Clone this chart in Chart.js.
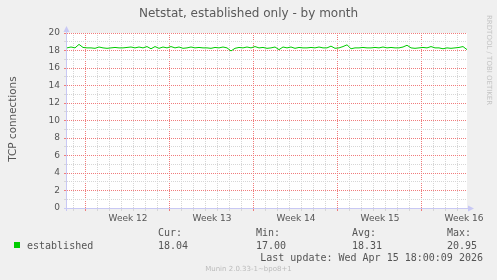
<!DOCTYPE html>
<html>
<head>
<meta charset="utf-8">
<script src="https://cdn.jsdelivr.net/npm/chart.js@4.4.1/dist/chart.umd.min.js"></script>
<style>
  body { margin: 0; background: #f0f0f0; }
  #wrap { position: relative; width: 497px; height: 280px; overflow: hidden; font-family: 'DejaVu Sans', sans-serif; color: #555; }
  #wrap canvas { position: absolute; left: 0; top: 0; }
  .t { position: absolute; white-space: nowrap; }
  .mono { font-family: 'DejaVu Sans Mono', monospace; font-size: 10px; line-height: 12px; color: #555; }
</style>
</head>
<body>
<div id="wrap">
  <canvas id="chart" width="497" height="280"></canvas>
  <div class="t" style="left:0;top:5px;width:497px;text-align:center;font-size:12px;line-height:16px;color:#5a5a5a;">Netstat, established only - by month</div>
  <div class="t" style="left:-88px;top:112px;width:200px;height:14px;text-align:center;font-size:10.4px;line-height:14px;transform:rotate(-90deg);">TCP connections</div>
  <div class="t" style="left:485px;top:15px;writing-mode:vertical-rl;font-size:7px;color:#c4c4c4;">RRDTOOL / TOBI OETIKER</div>

  <div class="t" style="left:14px;top:242px;width:6px;height:6px;background:#00cc00;"></div>
  <div class="t mono" style="left:27px;top:240px;">established</div>
  <div class="t mono" style="left:158px;top:227px;">Cur:</div>
  <div class="t mono" style="left:158px;top:240px;">18.04</div>
  <div class="t mono" style="left:256px;top:227px;">Min:</div>
  <div class="t mono" style="left:256px;top:240px;">17.00</div>
  <div class="t mono" style="left:352px;top:227px;">Avg:</div>
  <div class="t mono" style="left:352px;top:240px;">18.31</div>
  <div class="t mono" style="left:447px;top:227px;">Max:</div>
  <div class="t mono" style="left:447px;top:240px;">20.95</div>
  <div class="t mono" style="right:14px;top:252px;">Last update: Wed Apr 15 18:00:09 2026</div>
  <div class="t" style="left:0;top:264px;width:497px;text-align:center;font-size:7px;line-height:10px;color:#bbb;">Munin 2.0.33-1~bpo8+1</div>
</div>
<script>
// days counted from the Monday that starts week 12
const startDay = -1.583;
const endDay = 31.75;
const stepDays = 1 / 3;   // one sample every 8 hours

const weekLabels = ['Week 12', 'Week 13', 'Week 14', 'Week 15', 'Week 16'];
const weekLabelDays = [3.5, 10.5, 17.5, 24.5, 31.5];
const yTicks = [0, 2, 4, 6, 8, 10, 12, 14, 16, 18, 20];

const established = [
  18.30, 18.40, 18.30, 18.70, 18.35, 18.30, 18.30, 18.25, 18.40, 18.30,
  18.25, 18.30, 18.35, 18.30, 18.30, 18.35, 18.40, 18.30, 18.40, 18.30,
  18.45, 18.20, 18.45, 18.25, 18.40, 18.30, 18.45, 18.30, 18.40, 18.25,
  18.30, 18.40, 18.30, 18.35, 18.30, 18.30, 18.25, 18.35, 18.30, 18.40,
  18.30, 17.95, 18.25, 18.35, 18.30, 18.40, 18.30, 18.45, 18.30, 18.35,
  18.25, 18.30, 18.40, 18.10, 18.40, 18.30, 18.40, 18.25, 18.35, 18.30,
  18.30, 18.35, 18.30, 18.40, 18.30, 18.30, 18.50, 18.25, 18.30, 18.45,
  18.65, 18.20, 18.30, 18.30, 18.35, 18.30, 18.30, 18.35, 18.30, 18.40,
  18.30, 18.35, 18.30, 18.30, 18.40, 18.60, 18.30, 18.25, 18.30, 18.35,
  18.30, 18.45, 18.30, 18.30, 18.20, 18.30, 18.25, 18.30, 18.35, 18.45,
  18.10
];

const points = established.map((v, i) => ({ x: startDay + i * stepDays, y: v }));

const axisColor = '#c8c8f4';
const redGrid = '#f07c7c';
const grayGrid = '#d6d6d6';

// white plot area, and munin-style axis lines with arrows
const munin = {
  id: 'munin',
  beforeDraw(chart) {
    const a = chart.chartArea;
    const ctx = chart.ctx;
    ctx.save();
    ctx.fillStyle = '#ffffff';
    ctx.fillRect(a.left, a.top, a.right - a.left, a.bottom - a.top);
    ctx.restore();
  },
  afterDraw(chart) {
    const a = chart.chartArea;
    const ctx = chart.ctx;
    ctx.save();
    ctx.strokeStyle = axisColor;
    ctx.fillStyle = axisColor;
    ctx.lineWidth = 1;
    ctx.beginPath();
    ctx.moveTo(a.left - 0.5, a.bottom + 3);
    ctx.lineTo(a.left - 0.5, a.top - 4);
    ctx.moveTo(a.left - 3, a.bottom + 0.5);
    ctx.lineTo(a.right + 4, a.bottom + 0.5);
    ctx.stroke();
    ctx.beginPath();
    ctx.moveTo(a.left - 0.5, a.top - 7);
    ctx.lineTo(a.left - 3.5, a.top - 1);
    ctx.lineTo(a.left + 2.5, a.top - 1);
    ctx.closePath();
    ctx.fill();
    ctx.beginPath();
    ctx.moveTo(a.right + 7, a.bottom + 0.5);
    ctx.lineTo(a.right + 1, a.bottom - 2.5);
    ctx.lineTo(a.right + 1, a.bottom + 3.5);
    ctx.closePath();
    ctx.fill();
    ctx.restore();
  }
};

new Chart(document.getElementById('chart'), {
  type: 'line',
  data: {
    datasets: [{
      label: 'established',
      data: points,
      xAxisID: 'x',
      yAxisID: 'y',
      borderColor: '#00cc00',
      borderWidth: 1,
      pointRadius: 0,
      tension: 0,
      fill: false
    }]
  },
  options: {
    responsive: false,
    animation: false,
    devicePixelRatio: 1,
    layout: { padding: { left: 0, right: 30, top: 33, bottom: 52 } },
    plugins: { legend: { display: false }, tooltip: { enabled: false }, title: { display: false } },
    scales: {
      x: {
        type: 'linear',
        min: startDay,
        max: endDay,
        afterBuildTicks(scale) {
          const t = [];
          for (let d = -1; d <= 31; d++) t.push({ value: d });
          scale.ticks = t;
        },
        afterFit(scale) { scale.height = 3; },
        ticks: { display: false },
        border: { display: false, dash: [1, 1] },
        grid: {
          drawTicks: true,
          tickLength: 3,
          lineWidth: 1,
          color: ctx => (ctx.tick && ctx.tick.value % 7 === 0) ? redGrid : grayGrid
        }
      },
      xl: {
        type: 'linear',
        position: 'bottom',
        min: startDay,
        max: endDay,
        afterBuildTicks(scale) {
          scale.ticks = weekLabelDays.map(v => ({ value: v }));
        },
        afterFit(scale) { scale.height = 17; },
        border: { display: false },
        grid: { display: false, drawTicks: false },
        ticks: {
          padding: 2,
          maxRotation: 0,
          autoSkip: false,
          color: '#555',
          font: { family: 'DejaVu Sans', size: 9 },
          callback: (v, i) => weekLabels[i]
        }
      },
      y: {
        type: 'linear',
        min: 0,
        max: 20,
        afterBuildTicks(scale) {
          const t = [];
          for (let v = 0; v <= 20; v++) t.push({ value: v });
          scale.ticks = t;
        },
        afterFit(scale) { scale.width = 67; },
        border: { display: false, dash: [1, 1] },
        grid: {
          drawTicks: true,
          tickLength: 3,
          color: ctx => (ctx.tick && ctx.tick.value === 0) ? 'rgba(0,0,0,0)' :
            (ctx.tick && ctx.tick.value % 2 === 0 ? redGrid : grayGrid)
        },
        ticks: {
          padding: 4,
          autoSkip: false,
          color: '#555',
          font: { family: 'DejaVu Sans', size: 9 },
          callback: v => yTicks.includes(v) ? String(v) : ''
        }
      }
    }
  },
  plugins: [munin]
});
</script>
</body>
</html>
